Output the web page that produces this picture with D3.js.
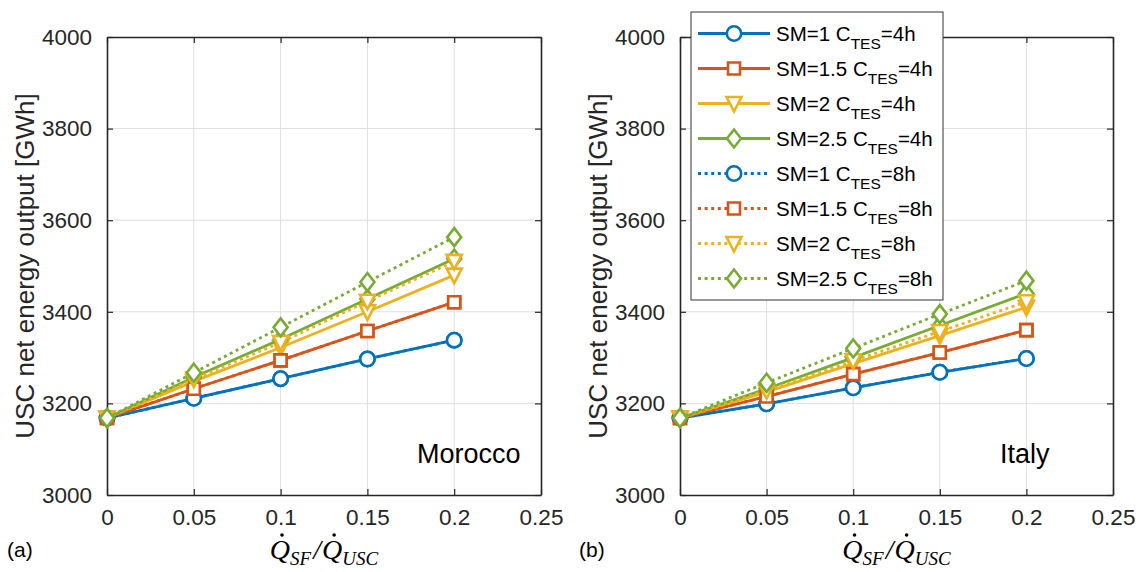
<!DOCTYPE html>
<html><head><meta charset="utf-8">
<script src="https://cdn.jsdelivr.net/npm/d3@7"></script>
<style>body{margin:0;background:#fff}svg{display:block}</style>
</head><body>
<svg id="chart" width="1144" height="572"></svg>
<script>
// Solar-field to USC thermal power ratio (x values)
const ratio = [0, 0.05, 0.1, 0.15, 0.2];
const xTicks = [0, 0.05, 0.1, 0.15, 0.2, 0.25];
const xTickLabels = ["0", "0.05", "0.1", "0.15", "0.2", "0.25"];
const yTicks = [3000, 3200, 3400, 3600, 3800, 4000];
const yTickLabels = ["3000", "3200", "3400", "3600", "3800", "4000"];

// Series labels (solar multiple, storage capacity)
const smLabels = ["1", "1.5", "2", "2.5", "1", "1.5", "2", "2.5"];
const tesLabels = ["4h", "4h", "4h", "4h", "8h", "8h", "8h", "8h"];

// USC net energy output [GWh], Morocco
const morSM1h4   = [3168, 3211, 3254, 3297, 3338];
const morSM15h4  = [3168, 3232, 3294, 3358, 3421];
const morSM2h4   = [3168, 3248, 3322, 3400, 3480];
const morSM25h4  = [3168, 3257, 3340, 3428, 3516];
const morSM1h8   = [3168, 3211, 3254, 3297, 3338];
const morSM15h8  = [3168, 3232, 3294, 3358, 3421];
const morSM2h8   = [3168, 3253, 3333, 3423, 3510];
const morSM25h8  = [3168, 3267, 3366, 3465, 3563];

// USC net energy output [GWh], Italy
const itaSM1h4   = [3168, 3199, 3234, 3268, 3298];
const itaSM15h4  = [3168, 3215, 3264, 3311, 3360];
const itaSM2h4   = [3168, 3225, 3287, 3348, 3410];
const itaSM25h4  = [3168, 3232, 3300, 3370, 3440];
const itaSM1h8   = [3168, 3199, 3234, 3268, 3298];
const itaSM15h8  = [3168, 3215, 3264, 3311, 3360];
const itaSM2h8   = [3168, 3228, 3293, 3357, 3422];
const itaSM25h8  = [3168, 3245, 3320, 3395, 3468];

const colors = ["#0072BD", "#D95319", "#EDB120", "#77AC30"];
const markers = ["circle", "square", "triangle", "diamond"];

const svg = d3.select("#chart");
const AX = "#262626";
const FONT = "'Liberation Sans', Arial, sans-serif";

function markerPath(type) {
  switch (type) {
    case "circle": return d3.arc()({innerRadius:0, outerRadius:7.2, startAngle:0, endAngle:2*Math.PI});
    case "square": return "M-6,-6L6,-6L6,6L-6,6Z";
    case "triangle": return "M-7.5,-6.5L7.5,-6.5L0,8Z";
    case "diamond": return "M0,-9L7,0L0,9L-7,0Z";
  }
}

function drawPanel(cfg) {
  const x = d3.scaleLinear().domain([0, 0.25]).range([cfg.x0, cfg.x1]);
  const y = d3.scaleLinear().domain([3000, 4000]).range([495, 37]);
  const g = svg.append("g");

  // grid
  g.append("g").selectAll("line").data(xTicks.slice(1, -1)).join("line")
    .attr("x1", d => x(d)).attr("x2", d => x(d)).attr("y1", y(3000)).attr("y2", y(4000))
    .attr("stroke", "#dfdfdf").attr("stroke-width", 1);
  g.append("g").selectAll("line").data(yTicks.slice(1, -1)).join("line")
    .attr("y1", d => y(d)).attr("y2", d => y(d)).attr("x1", x(0)).attr("x2", x(0.25))
    .attr("stroke", "#dfdfdf").attr("stroke-width", 1);

  // axes (ticks point inwards, box on)
  const xb = d3.axisBottom(x).tickValues(xTicks).tickFormat((d, i) => xTickLabels[i]).tickSizeInner(-6).tickSizeOuter(0).tickPadding(14);
  const yl = d3.axisLeft(y).tickValues(yTicks).tickFormat((d, i) => yTickLabels[i]).tickSizeInner(-6).tickSizeOuter(0).tickPadding(15);
  const xt = d3.axisTop(x).tickValues(xTicks).tickFormat("").tickSizeInner(-6).tickSizeOuter(0);
  const yr = d3.axisRight(y).tickValues(yTicks).tickFormat("").tickSizeInner(-6).tickSizeOuter(0);
  const styleAxis = a => {
    a.selectAll("path").attr("stroke", AX).attr("stroke-width", 1.6);
    a.selectAll("line").attr("stroke", AX).attr("stroke-width", 1.2);
    a.selectAll("text").attr("fill", AX).style("font-family", FONT).style("font-size", "22.5px");
  };
  g.append("g").attr("transform", `translate(0,${y(3000)})`).call(xb).call(styleAxis);
  g.append("g").attr("transform", `translate(${x(0)},0)`).call(yl).call(styleAxis);
  g.append("g").attr("transform", `translate(0,${y(4000)})`).call(xt).call(styleAxis);
  g.append("g").attr("transform", `translate(${x(0.25)},0)`).call(yr).call(styleAxis);

  // series
  const line = d3.line().x((d, i) => x(ratio[i])).y(d => y(d));
  cfg.series.forEach((vals, k) => {
    const c = colors[k % 4];
    const dotted = k >= 4;
    const sg = g.append("g");
    sg.append("path").attr("d", line(vals)).attr("fill", "none").attr("stroke", c)
      .attr("stroke-width", 2.8).attr("stroke-dasharray", dotted ? "3,3.6" : null);
    sg.selectAll("path.m").data(vals).join("path")
      .attr("transform", (d, i) => `translate(${x(ratio[i])},${y(d)})`)
      .attr("d", markerPath(markers[k % 4])).attr("fill", "#fff")
      .attr("stroke", c).attr("stroke-width", 2.6);
  });

  // region label
  g.append("text").attr("x", cfg.labelX).attr("y", 463).text(cfg.name)
    .style("font-family", FONT).style("font-size", "27px").attr("fill", "#000");

  // y label
  g.append("text").attr("transform", `translate(${cfg.x0 - 73},${y(3500)}) rotate(-90)`)
    .attr("text-anchor", "middle").text("USC net energy output [GWh]")
    .style("font-family", FONT).style("font-size", "26px").attr("fill", AX);

  // x label: Q̇_SF / Q̇_USC
  const xc = (cfg.x0 + cfg.x1) / 2;
  const tl = g.append("text").attr("y", 559).attr("text-anchor", "middle").attr("x", xc)
    .style("font-family", "'Liberation Serif', 'Times New Roman', serif").style("font-style", "italic")
    .style("font-size", "28px").attr("fill", "#000");
  tl.append("tspan").text("Q");
  tl.append("tspan").text("SF").attr("dy", 6).style("font-size", "19px");
  tl.append("tspan").text("/").attr("dy", -6).attr("dx", 2);
  tl.append("tspan").text("Q").attr("dx", 1);
  tl.append("tspan").text("USC").attr("dy", 6).style("font-size", "19px");
  const node = tl.node();
  [0, 4].forEach(ci => {
    const ext = node.getExtentOfChar(ci);
    g.append("circle").attr("cx", ext.x + ext.width * 0.6).attr("cy", 535).attr("r", 1.8).attr("fill", "#000");
  });

  // panel tag
  g.append("text").attr("x", cfg.tagX).attr("y", 557).text(cfg.tag)
    .style("font-family", FONT).style("font-size", "21px").attr("fill", "#000");
}

drawPanel({
  x0: 107, x1: 541, name: "Morocco", labelX: 417, tag: "(a)", tagX: 7,
  series: [morSM1h4, morSM15h4, morSM2h4, morSM25h4, morSM1h8, morSM15h8, morSM2h8, morSM25h8]
});
drawPanel({
  x0: 680, x1: 1113, name: "Italy", labelX: 1000, tag: "(b)", tagX: 579,
  series: [itaSM1h4, itaSM15h4, itaSM2h4, itaSM25h4, itaSM1h8, itaSM15h8, itaSM2h8, itaSM25h8]
});

// legend
const lg = svg.append("g");
lg.append("rect").attr("x", 691).attr("y", 12).attr("width", 252).attr("height", 288)
  .attr("fill", "#fff").attr("stroke", "#333").attr("stroke-width", 1);
smLabels.forEach((sm, k) => {
  const cy = 33.5 + 35 * k;
  const c = colors[k % 4];
  lg.append("line").attr("x1", 698).attr("x2", 770).attr("y1", cy).attr("y2", cy)
    .attr("stroke", c).attr("stroke-width", 2.8).attr("stroke-dasharray", k >= 4 ? "3,3.6" : null);
  lg.append("path").attr("transform", `translate(734,${cy})`).attr("d", markerPath(markers[k % 4]))
    .attr("fill", "#fff").attr("stroke", c).attr("stroke-width", 2.6);
  const t = lg.append("text").attr("x", 776).attr("y", cy + 7)
    .style("font-family", FONT).style("font-size", "20.5px").attr("fill", "#000");
  t.append("tspan").text(`SM=${sm} C`);
  t.append("tspan").text("TES").attr("dy", 8).style("font-size", "15.5px");
  t.append("tspan").text(`=${tesLabels[k]}`).attr("dy", -8);
});
</script>
</body></html>
